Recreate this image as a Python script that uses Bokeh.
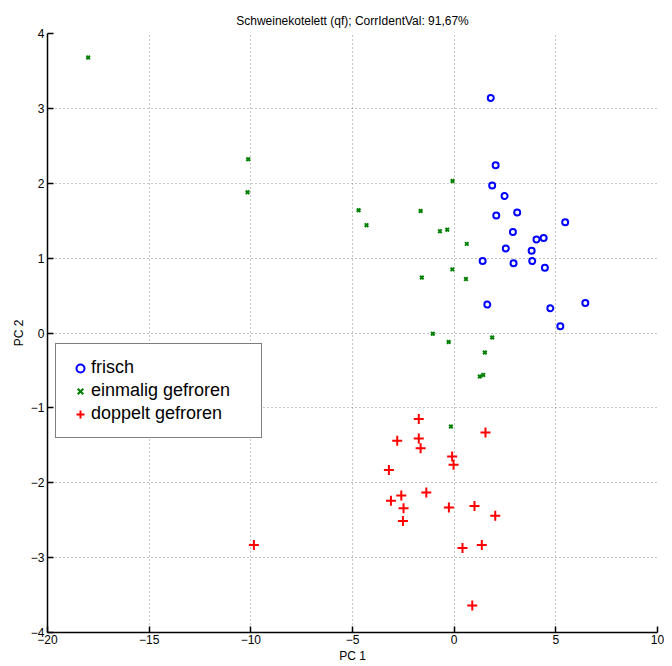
from bokeh.plotting import figure
from bokeh.models import Range1d, Legend, LegendItem, FixedTicker
from bokeh.embed import file_html
from bokeh.resources import INLINE

title_text = "Schweinekotelett (qf); CorrIdentVal: 91,67%"
x_label = "PC 1"
y_label = "PC 2"
x_ticks = [-20, -15, -10, -5, 0, 5, 10]
y_ticks = [-4, -3, -2, -1, 0, 1, 2, 3, 4]

frisch_pc1 = [1.80, 2.04, 1.87, 2.48, 2.07, 3.10, 5.46, 2.89, 4.05, 4.40,
              2.54, 3.81, 1.40, 2.92, 3.84, 4.46, 1.63, 4.73, 6.45, 5.22]
frisch_pc2 = [3.14, 2.24, 1.97, 1.83, 1.57, 1.61, 1.48, 1.35, 1.25, 1.27,
              1.13, 1.10, 0.96, 0.93, 0.96, 0.87, 0.38, 0.33, 0.40, 0.09]

einmalig_pc1 = [-18.0, -10.13, -10.16, -0.08, -4.70, -4.31, -1.65, -0.70, -0.34, 0.62,
                -0.09, -1.59, 0.58, -1.05, -0.27, 1.87, 1.51, 1.26, 1.43, -0.16]
einmalig_pc2 = [3.68, 2.32, 1.88, 2.03, 1.64, 1.44, 1.63, 1.36, 1.38, 1.19,
                0.85, 0.74, 0.72, -0.01, -0.12, -0.06, -0.26, -0.58, -0.56, -1.25]

doppelt_pc1 = [-1.74, -2.80, -1.74, -1.65, -3.21, -0.10, -0.03, 1.54, -2.60, -3.11,
               -1.37, -2.49, -2.52, -0.26, 1.00, 2.02, 0.41, 1.36, 0.89, -9.85]
doppelt_pc2 = [-1.15, -1.44, -1.41, -1.54, -1.83, -1.65, -1.76, -1.33, -2.17, -2.24,
               -2.13, -2.34, -2.51, -2.33, -2.31, -2.44, -2.87, -2.83, -3.64, -2.83]

p = figure(width=664, height=665,
           x_range=Range1d(-20, 10), y_range=Range1d(-4, 4),
           output_backend="svg", toolbar_location=None,
           min_border_left=47, min_border_right=7, min_border_top=33, min_border_bottom=32)

p.title.text = title_text
p.title.align = "center"
p.title.text_font = "Liberation Sans"
p.title.text_font_size = "12px"
p.title.text_font_style = "normal"
p.title.text_color = "black"
p.title.standoff = 12

p.outline_line_color = None
p.background_fill_color = "white"
p.border_fill_color = "white"

for ax in (p.xaxis[0], p.yaxis[0]):
    ax.axis_line_color = "black"
    ax.axis_line_width = 1.5
    ax.major_tick_in = 6
    ax.major_tick_out = 0
    ax.major_tick_line_color = "black"
    ax.major_tick_line_width = 1.5
    ax.minor_tick_line_color = None
    ax.major_label_text_font = "Liberation Sans"
    ax.major_label_text_font_size = "12px"
    ax.major_label_text_color = "black"
    ax.axis_label_text_font = "Liberation Sans"
    ax.axis_label_text_font_size = "12px"
    ax.axis_label_text_font_style = "normal"
    ax.axis_label_text_color = "black"
    ax.major_label_standoff = 3

p.xaxis[0].ticker = FixedTicker(ticks=x_ticks)
p.yaxis[0].ticker = FixedTicker(ticks=y_ticks)
p.xaxis[0].axis_label = x_label
p.yaxis[0].axis_label = y_label
p.xaxis[0].major_label_standoff = 2
p.xaxis[0].axis_label_standoff = 2
p.yaxis[0].axis_label_standoff = 2

for g in (p.xgrid[0], p.ygrid[0]):
    g.grid_line_color = "#8c8c8c"
    g.grid_line_dash = "1 3"
    g.grid_line_width = 1

r1 = p.scatter(frisch_pc1, frisch_pc2, marker="circle", size=6,
               fill_color=None, line_color="#0000ff", line_width=2)
r2 = p.scatter(einmalig_pc1, einmalig_pc2, marker="x", size=5,
               line_color="#008000", line_width=2)
r3 = p.scatter(doppelt_pc1, doppelt_pc2, marker="cross", size=10,
               line_color="#ff0000", line_width=2)

legend = Legend(items=[LegendItem(label="frisch", renderers=[r1]),
                       LegendItem(label="einmalig gefroren", renderers=[r2]),
                       LegendItem(label="doppelt gefroren", renderers=[r3])],
                location=(8, 194))
legend.label_text_font = "Liberation Sans"
legend.label_text_font_size = "18px"
legend.label_text_color = "black"
legend.border_line_color = "black"
legend.border_line_width = 1
legend.background_fill_alpha = 1
legend.padding = 13
legend.spacing = 2
legend.glyph_width = 22
legend.glyph_height = 20
legend.label_standoff = 0
legend.label_width = 157
legend.label_height = 20
legend.margin = 0
p.add_layout(legend, "center")

open("out.html", "w").write(file_html(p, INLINE))
